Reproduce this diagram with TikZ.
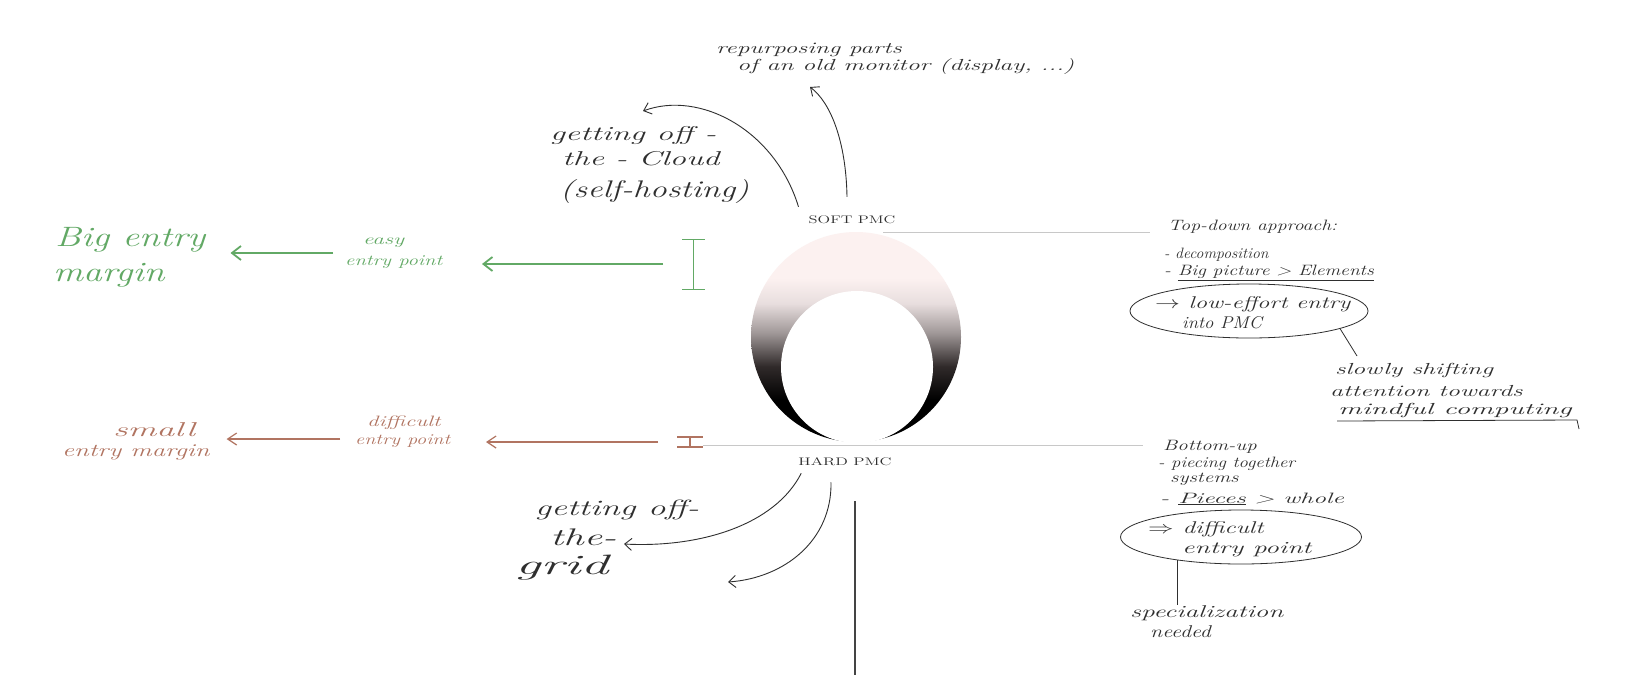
\documentclass[tikz,border=0pt]{standalone}
\usepackage{fontspec}
\usetikzlibrary{arrows.meta,shapes.geometric}
\definecolor{ink}{HTML}{2F2F2F}
\definecolor{gink}{HTML}{62A965}
\definecolor{rink}{HTML}{B17461}
\definecolor{gline}{HTML}{C8C8C8}
\definecolor{ringpink}{HTML}{FCF1F0}
\definecolor{ringmid}{HTML}{A09898}
\definecolor{ringdark}{HTML}{302A2A}
\definecolor{ringlight}{HTML}{E8DEDE}
\pgfdeclareverticalshading{ringshade}{100bp}{color(0bp)=(black); color(35bp)=(black); color(43bp)=(ringdark); color(51bp)=(ringmid); color(58bp)=(ringlight); color(64bp)=(ringpink); color(100bp)=(ringpink)}
\newcommand\hand[1]{\itshape\fontsize{#1}{#1}\selectfont}
\newcommand\hw[2]{\scalebox{#1}[1]{#2}}
\tikzset{
  txt/.style={inner sep=0pt, anchor=west, text=ink},
  gtxt/.style={txt, text=gink},
  rtxt/.style={txt, text=rink},
  capsl/.style={inner sep=0pt, text=ink, font=\upshape\fontsize{11}{11}\selectfont},
  karrow/.style={draw=ink, line width=0.9pt, -{Straight Barb[length=7pt,width=12pt]}},
  garrow/.style={draw=gink, line width=1.8pt, -{Straight Barb[length=9pt,width=14pt]}},
  rarrow/.style={draw=rink, line width=1.2pt, -{Straight Barb[length=9pt,width=12pt]}},
  grayline/.style={draw=gline, line width=0.8pt},
  inkline/.style={draw=ink, line width=0.8pt},
  bubble/.style={ellipse, draw=ink, line width=0.8pt, inner sep=0pt}
}
\begin{document}
\begin{tikzpicture}[x=1pt,y=-1pt]
\fill[white] (0,0) rectangle (1629,675);
\useasboundingbox (0,0) rectangle (1629,675);

% gray guide lines
\draw[grayline] (883,232) -- (1150,232);
\draw[grayline] (703,445) -- (1143,445);

% ring
\shade[shading=ringshade] (856,337) circle[radius=105pt];
\fill[white] (857,367) circle[radius=76pt];

% labels at the ring
\node[capsl] (soft) at (852,220) {\hw{1.5}{SOFT PMC}};
\node[capsl] (hard) at (845,462) {\hw{1.53}{HARD PMC}};

% top texts
\node[txt, font=\hand{16}] (repA) at (716,50) {\hw{1.58}{repurposing parts}};
\node[txt, font=\hand{16}] (repB) at (737,67) {\hw{1.6}{of an old monitor (display, ...)}};
\coordinate (repTip) at (810,87);
\draw[karrow] ([shift={(-5pt,19pt)}]soft.north) .. controls (846,140) and (830,102) .. (repTip);

\node[txt, font=\hand{20}] (cloudA) at (550,135) {\hw{1.66}{getting off -}};
\node[txt, font=\hand{20}] (cloudB) at (562,159) {\hw{1.64}{the - Cloud}};
\node[txt, font=\hand{24}] (cloudC) at (560,192) {\hw{1.41}{(self-hosting)}};
\coordinate (cloudTip) at (643,111);
\draw[karrow] ([shift={(-10pt,9pt)}]soft.north west) .. controls (775,130) and (700,90) .. (cloudTip);

% green (soft) side
\coordinate (gI) at (693,264);
\draw[gink, line width=1pt] ([shift={(-11pt,25pt)}]gI) -- ([shift={(12pt,25pt)}]gI)
  ([yshift=25pt]gI) -- ([yshift=-25pt]gI)
  ([shift={(-11pt,-25pt)}]gI) -- ([shift={(12pt,-25pt)}]gI);
\node[gtxt, font=\hand{15}] (easyA) at (363,243) {\hw{1.54}{easy}};
\node[gtxt, font=\hand{15}] (easyB) at (345,262) {\hw{1.38}{entry point}};
\node[gtxt, font=\hand{28}] (bigA) at (55,240) {\hw{1.34}{Big entry}};
\node[gtxt, font=\hand{28}] (bigB) at (53,275) {\hw{1.34}{margin}};
\draw[garrow] ([xshift=-30pt]gI) -- ([xshift=-211pt]gI);
\coordinate (gA1) at (333,253);
\draw[garrow] (gA1) -- ([xshift=25pt]bigA.east |- gA1);

% red (hard) side
\coordinate (rI) at (690,442);
\draw[rink, line width=1.4pt] ([shift={(-13pt,5pt)}]rI) -- ([shift={(13pt,5pt)}]rI)
  ([yshift=5pt]rI) -- ([yshift=-5pt]rI)
  ([shift={(-13pt,-5pt)}]rI) -- ([shift={(13pt,-5pt)}]rI);
\node[rtxt, font=\hand{15}] (diffA) at (367,423) {\hw{1.52}{difficult}};
\node[rtxt, font=\hand{15}] (diffB) at (355,441) {\hw{1.35}{entry point}};
\node[rtxt, font=\hand{20}] (smallA) at (113,430) {\hw{1.8}{small}};
\node[rtxt, font=\hand{18}] (smallB) at (62,452) {\hw{1.48}{entry margin}};
\draw[rarrow] ([xshift=-32pt]rI) -- ([xshift=-204pt]rI);
\coordinate (rA1) at (340,439);
\draw[rarrow] (rA1) -- ([xshift=17pt]smallB.east |- rA1);

% right: top-down
\node[txt, font=\hand{15}] (tdA) at (1168,227) {\hw{1.31}{Top-down approach:}};
\node[txt, font=\hand{15}] (tdB) at (1164,255) {\hw{1.05}{- decomposition}};
\node[txt, font=\hand{15}] (tdC) at (1164,273) {\hw{1.3}{- \underline{Big picture > Elements}}};
\node[bubble, minimum width=238pt, minimum height=54pt] (topEll) at (1249,311) {};
\node[txt, font=\hand{17}] (topT1) at (1155,304) {\hw{1.44}{$\rightarrow$ low-effort entry}};
\node[txt, font=\hand{17}] (topT2) at (1182,323) {\hw{1.1}{into PMC}};
\node[txt, font=\hand{16}] (slA) at (1335,370) {\hw{1.63}{slowly shifting}};
\node[txt, font=\hand{16}] (slB) at (1330,391) {\hw{1.62}{attention towards}};
\node[txt, font=\hand{16}] (slC) at (1338,410) {\hw{1.84}{mindful computing}};
\coordinate (slTip) at (1357,356);
\draw[inkline] (topEll.-11) -- (slTip);
\draw[inkline] (1337,421) -- (1577,420) -- (1579,429);

% right: bottom-up
\node[txt, font=\hand{15}] (buA) at (1163,447) {\hw{1.38}{Bottom-up}};
\node[txt, font=\hand{15}] (buB) at (1158,464) {\hw{1.24}{- piecing together}};
\node[txt, font=\hand{15}] (buC) at (1170,479) {\hw{1.4}{systems}};
\node[txt, font=\hand{15}] (buD) at (1160,499) {\hw{1.72}{- \underline{Pieces} > whole}};
\node[bubble, minimum width=241pt, minimum height=54pt] (botEll) at (1241,537) {};
\node[txt, font=\hand{17}] (botT1) at (1148,529) {\hw{1.48}{$\Rightarrow$ difficult}};
\node[txt, font=\hand{17}] (botT2) at (1182,550) {\hw{1.62}{entry point}};
\node[txt, font=\hand{17}] (specA) at (1130,613) {\hw{1.6}{specialization}};
\node[txt, font=\hand{17}] (specB) at (1150,632) {\hw{1.3}{needed}};
\draw[inkline] (botEll.200) -- (botEll.200 |- specA.north);

% bottom-left: getting off the grid
\node[txt, font=\hand{22}] (gridA) at (535,510) {\hw{1.6}{getting off-}};
\node[txt, font=\hand{24}] (gridB) at (550,537) {\hw{1.7}{the-}};
\node[txt, font=\hand{28}] (gridC) at (515,568) {\hw{2.0}{grid}};
\coordinate (gridTip) at (624,544);
\coordinate (downTip) at (728,582);
\draw[karrow] ([shift={(3pt,-7pt)}]hard.south west) .. controls (775,525) and (700,548) .. (gridTip);
\draw[karrow] ([shift={(-14pt,-16pt)}]hard.south) .. controls (832,540) and (785,578) .. (downTip);

% vertical bar
\draw[draw=ink!90, line width=2.5pt] (855,501) -- (855,675);
\end{tikzpicture}
\end{document}
